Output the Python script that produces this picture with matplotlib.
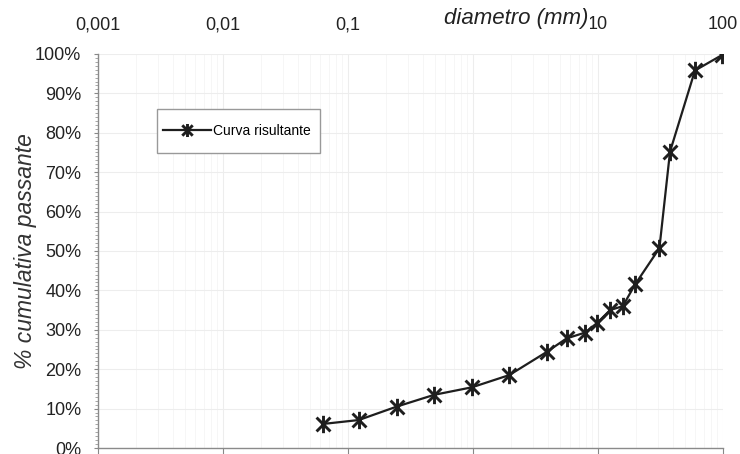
import matplotlib

matplotlib.use("Agg")
import matplotlib.pyplot as plt
from matplotlib.patches import Rectangle
from matplotlib.path import Path
from matplotlib.ticker import FixedLocator, MultipleLocator, FuncFormatter, LogLocator, NullFormatter

# grain size distribution (diameter in mm, cumulative passing in %)
diametro = [0.063, 0.122, 0.245, 0.49, 0.98, 1.95, 3.9, 5.6, 7.9, 9.9,
            12.5, 15.8, 19.8, 31, 37.7, 59.7, 98]
passante = [6.1, 7.1, 10.5, 13.5, 15.4, 18.5, 24.4, 27.8, 29.3, 31.8,
            35.0, 36.0, 41.5, 50.7, 75.2, 95.8, 99.7]
x_ticks = [0.001, 0.01, 0.1, 1, 10, 100]
x_labels = ["0,001", "0,01", "0,1", "1", "10", "100"]

plt.rcParams["font.family"] = ["Liberation Sans", "DejaVu Sans"]

# excel-style asterisk marker: vertical bar + X
star = Path(
    [(0, -1), (0, 1), (-0.8, -0.8), (0.8, 0.8), (-0.8, 0.8), (0.8, -0.8)],
    [Path.MOVETO, Path.LINETO, Path.MOVETO, Path.LINETO, Path.MOVETO, Path.LINETO],
)

fig = plt.figure(figsize=(7.4, 4.54), dpi=100)
ax = fig.add_axes([0.1324, 0.0132, 0.8446, 0.868])

ax.plot(diametro, passante, color="#1e1e1e", lw=1.6, marker=star, ms=12.5,
        mew=2.1, mec="#1e1e1e", label="Curva risultante", zorder=3)

ax.set_xscale("log")
ax.set_xlim(0.001, 100)
ax.set_ylim(0, 100)

ax.xaxis.set_major_locator(FixedLocator(x_ticks))
ax.xaxis.set_minor_locator(LogLocator(base=10, subs=range(2, 10)))
ax.xaxis.set_minor_formatter(NullFormatter())
ax.xaxis.set_major_formatter(FuncFormatter(lambda v, p: dict(zip(x_ticks, x_labels)).get(v, "")))
ax.tick_params(axis="x", which="major", bottom=True, labelbottom=False, top=False,
               labeltop=True, direction="out", length=6, color="#888888",
               labelsize=13, labelcolor="#222222", pad=9)
ax.tick_params(axis="x", which="minor", bottom=False, top=False)

ax.yaxis.set_major_locator(MultipleLocator(10))
ax.yaxis.set_minor_locator(MultipleLocator(1))
ax.yaxis.set_major_formatter(FuncFormatter(lambda v, p: f"{v:.0f}%"))
ax.tick_params(axis="y", which="major", direction="out", length=3, color="#888888",
               labelsize=13, labelcolor="#222222", pad=9)
ax.tick_params(axis="y", which="minor", direction="out", length=2.5, color="#999999")

ax.grid(True, which="major", color="#ededed", lw=0.8)
ax.grid(True, which="minor", axis="x", color="#f5f5f5", lw=0.6)

for side in ("top", "right"):
    ax.spines[side].set_visible(False)
for side in ("left", "bottom"):
    ax.spines[side].set_color("#8a8a8a")
    ax.spines[side].set_linewidth(1.0)

ax.set_ylabel("% cumulativa passante", fontsize=16.5, style="italic", color="#333333")
ax.yaxis.set_label_coords(-0.097, 0.5)

# axis title sits over the top tick labels, like in the original excel chart
fig.text(0.697, 0.960, "diametro (mm)", fontsize=16, style="italic", color="#222222",
         ha="center", va="center",
         bbox=dict(boxstyle="square,pad=0.08", fc="white", ec="none"))

# legend box is taller than the single entry needs, so draw the frame separately
box_x, box_y, box_w, box_h = 0.0944, 0.7487, 0.2608, 0.1117
ax.add_patch(Rectangle((box_x, box_y), box_w, box_h, transform=ax.transAxes,
                       fc="white", ec="#999999", lw=1.0, zorder=4))
leg = ax.legend(loc="center left", bbox_to_anchor=(box_x, box_y + box_h / 2),
                borderaxespad=0, fontsize=10, frameon=False,
                handlelength=3.5, borderpad=0.4, handletextpad=0.15, markerscale=0.75)
leg.set_zorder(5)

fig.savefig("out.png", dpi=100)
plt.close(fig)
